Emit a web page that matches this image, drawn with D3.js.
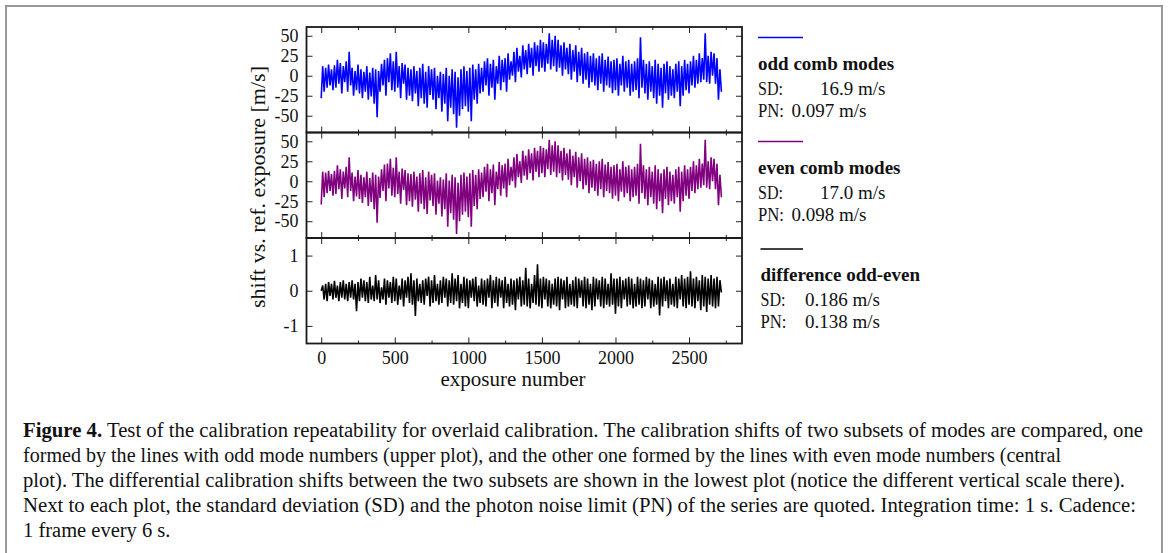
<!DOCTYPE html>
<html>
<head>
<meta charset="utf-8">
<script src="https://cdn.jsdelivr.net/npm/d3@7"></script>
<style>
  body { margin: 0; background: #fff; }
  svg { display: block; }
  text { font-family: "Liberation Serif", "DejaVu Serif", serif; fill: #111; }
</style>
</head>
<body>
<svg id="chart"></svg>
<script>
// one value every 10 exposures (upper / lower excursions)
let exposureStep = 10;

let oddShift = [
  -28, 12, -20, 10, -15, 14, -12, 8, -18, 13,
  -15, 20, -10, 16, -22, 12, -8, 18, -20, 30,
  -12, 10, -25, 6, -18, 14, -22, 8, -28, 5,
  -20, 12, -30, 4, -26, 10, -35, 8, -52, 6,
  -20, 15, -12, 20, -25, 22, -8, 28, -18, 18,
  -20, 30, -15, 12, -28, 16, -10, 14, -30, 10,
  -25, 8, -32, 12, -22, 6, -38, 10, -28, 15,
  -35, 5, -40, 12, -24, 8, -30, 10, -42, 0,
  -28, 5, -45, 2, -35, 10, -57, 0, -40, 8,
  -48, 5, -65, -2, -50, 8, -42, 12, -38, 6,
  -45, 10, -57, 14, -30, 8, -35, 15, -22, 10,
  -20, 18, -12, 22, -25, 15, -15, 20, -30, 12,
  -10, 25, -18, 20, -8, 22, -20, 28, -5, 18,
  0, 30, -8, 35, 5, 25, -2, 38, 8, 32,
  2, 40, 10, 35, 0, 42, 12, 38, 5, 45,
  10, 42, 5, 40, 15, 53, 8, 45, 12, 50,
  5, 45, 10, 38, 0, 42, 8, 35, 2, 40,
  -5, 32, 5, 38, -8, 30, 0, 35, -10, 28,
  -5, 30, -15, 25, -8, 28, -12, 22, -18, 25,
  -10, 28, -20, 20, -12, 24, -15, 18, -22, 20,
  -18, 22, -25, 15, -12, 25, -20, 18, -15, 20,
  -25, 15, -20, 18, -18, 22, -28, 48, -15, 20,
  -22, 15, -30, 18, -20, 12, -28, 20, -35, 15,
  -25, 10, -40, 15, -22, 18, -30, 12, -25, 8,
  -28, 15, -20, 18, -38, 12, -25, 20, -18, 15,
  -22, 18, -12, 25, -15, 20, -10, 28, -8, 22,
  -5, 53, -8, 25, -10, 30, 0, 28, -10, 22,
  -30, 8, -20
];

let evenShift = [
  -29, 12, -20, 11, -15, 13, -12, 9, -18, 13,
  -16, 20, -10, 15, -22, 12, -9, 18, -20, 30,
  -12, 11, -25, 6, -19, 14, -22, 8, -27, 5,
  -20, 12, -31, 4, -26, 11, -35, 8, -52, 6,
  -21, 15, -12, 21, -25, 22, -9, 28, -18, 17,
  -20, 30, -16, 12, -28, 16, -11, 14, -30, 10,
  -25, 9, -32, 12, -23, 6, -38, 10, -28, 14,
  -35, 5, -41, 12, -24, 8, -31, 10, -42, 1,
  -28, 5, -44, 2, -35, 10, -57, 1, -40, 8,
  -48, 5, -66, -2, -50, 8, -42, 11, -38, 6,
  -45, 10, -57, 14, -31, 8, -35, 15, -22, 11,
  -20, 18, -13, 22, -25, 15, -15, 21, -30, 12,
  -10, 24, -18, 20, -9, 22, -20, 28, -5, 18,
  0, 30, -8, 34, 5, 25, -2, 38, 7, 32,
  2, 40, 10, 35, 1, 42, 12, 38, 5, 44,
  10, 42, 5, 40, 15, 52, 8, 45, 12, 50,
  5, 45, 10, 38, 1, 42, 8, 35, 2, 40,
  -5, 32, 5, 37, -8, 30, 0, 35, -10, 28,
  -5, 30, -15, 25, -8, 27, -12, 22, -18, 25,
  -10, 28, -20, 21, -12, 24, -15, 18, -22, 20,
  -18, 22, -25, 15, -13, 25, -20, 18, -15, 20,
  -25, 15, -20, 18, -18, 22, -28, 47, -15, 20,
  -22, 15, -30, 18, -20, 12, -28, 20, -35, 15,
  -25, 10, -40, 15, -22, 18, -30, 12, -25, 8,
  -28, 15, -20, 18, -38, 12, -25, 20, -18, 15,
  -22, 18, -12, 25, -15, 20, -10, 28, -8, 22,
  -5, 52, -8, 25, -10, 30, 0, 28, -10, 22,
  -30, 8, -20
];

let diffShift = [
  0.0, 0.15, -0.25, 0.2, -0.3, 0.25, -0.15, 0.2, -0.25, 0.28,
  -0.2, 0.15, -0.3, 0.25, -0.2, 0.3, -0.25, 0.2, -0.3, 0.25,
  -0.2, 0.3, -0.25, 0.2, -0.58, 0.25, -0.3, 0.35, -0.2, 0.3,
  -0.3, 0.25, -0.35, 0.4, -0.25, 0.15, -0.3, 0.45, -0.25, 0.3,
  -0.35, 0.1, -0.25, 0.35, -0.4, 0.3, -0.2, 0.25, -0.35, 0.4,
  -0.3, 0.35, -0.4, 0.15, -0.25, 0.35, -0.45, 0.3, -0.2, 0.4,
  -0.35, 0.5, -0.4, 0.3, -0.72, 0.35, -0.3, 0.2, -0.35, 0.3,
  -0.4, 0.35, -0.15, 0.4, -0.45, 0.3, -0.35, 0.45, -0.3, 0.2,
  -0.4, 0.3, -0.35, 0.4, -0.2, 0.35, -0.45, 0.3, -0.35, 0.5,
  -0.4, 0.35, -0.3, 0.45, -0.5, 0.2, -0.35, 0.4, -0.45, 0.35,
  -0.5, 0.3, -0.2, 0.35, -0.3, 0.4, -0.45, 0.15, -0.35, 0.35,
  -0.4, 0.3, -0.45, 0.35, -0.2, 0.45, -0.5, 0.3, -0.35, 0.4,
  -0.45, 0.35, -0.2, 0.3, -0.5, 0.4, -0.35, 0.2, -0.45, 0.35,
  -0.4, 0.3, -0.55, 0.35, -0.25, 0.4, -0.45, 0.3, -0.4, 0.65,
  -0.45, 0.35, -0.5, 0.2, -0.35, 0.45, -0.4, 0.75, -0.45, 0.35,
  -0.5, 0.4, -0.25, 0.35, -0.45, 0.3, -0.5, 0.2, -0.4, 0.35,
  -0.45, 0.4, -0.55, 0.35, -0.25, 0.3, -0.5, 0.4, -0.45, 0.2,
  -0.4, 0.3, -0.45, 0.4, -0.5, 0.35, -0.2, 0.3, -0.45, 0.4,
  -0.5, 0.35, -0.4, 0.2, -0.55, 0.4, -0.45, 0.35, -0.25, 0.3,
  -0.45, 0.4, -0.5, 0.35, -0.4, 0.2, -0.45, 0.5, -0.4, 0.35,
  -0.65, 0.35, -0.45, 0.4, -0.5, 0.3, -0.25, 0.35, -0.45, 0.4,
  -0.4, 0.35, -0.5, 0.2, -0.45, 0.4, -0.4, 0.35, -0.5, 0.3,
  -0.45, 0.4, -0.25, 0.35, -0.5, 0.3, -0.45, 0.2, -0.4, 0.4,
  -0.7, 0.35, -0.45, 0.4, -0.3, 0.3, -0.5, 0.35, -0.4, 0.2,
  -0.45, 0.4, -0.5, 0.35, -0.25, 0.45, -0.45, 0.35, -0.5, 0.4,
  -0.4, 0.55, -0.45, 0.35, -0.5, 0.4, -0.3, 0.3, -0.55, 0.45,
  -0.45, 0.4, -0.6, 0.35, -0.4, 0.45, -0.45, 0.35, -0.5, 0.4,
  -0.45, 0.3, -0.05
];

let xTicks = [0, 500, 1000, 1500, 2000, 2500];
let xMinorTicks = [250, 750, 1250, 1750, 2250, 2750];
let shiftTicks = [-50, -25, 0, 25, 50];
let diffTicks = [-1, 0, 1];

let seriesNames = ["odd comb modes", "even comb modes", "difference odd-even"];
let seriesColors = ["#0000ff", "#800080", "#000000"];
let sdLabels = ["16.9 m/s", "17.0 m/s", "0.186 m/s"];
let pnLabels = ["0.097 m/s", "0.098 m/s", "0.138 m/s"];

let captionBold = "Figure 4.";
let captionLines = [
  " Test of the calibration repeatability for overlaid calibration. The calibration shifts of two subsets of modes are compared, one",
  "formed by the lines with odd mode numbers (upper plot), and the other one formed by the lines with even mode numbers (central",
  "plot). The differential calibration shifts between the two subsets are shown in the lowest plot (notice the different vertical scale there).",
  "Next to each plot, the standard deviation (SD) and the photon noise limit (PN) of the series are quoted. Integration time: 1 s. Cadence:",
  "1 frame every 6 s."
];

let width = 1168;
let height = 553;
let left = 306.5;
let right = 742;
let panelTops = [27, 132.5, 238];
let panelH = 105.5;

let svg = d3.select("#chart").attr("width", width).attr("height", height);

// outer box around figure + caption
svg.append("rect")
   .attr("x", 6).attr("y", 6)
   .attr("width", 1156).attr("height", 560)
   .attr("fill", "none").attr("stroke", "#999").attr("stroke-width", 2);

let xScale = d3.scaleLinear().domain([-100, 2860]).range([left, right]);

let panels = [
  {values: oddShift, domain: [-71, 61], ticks: shiftTicks},
  {values: evenShift, domain: [-71, 61], ticks: shiftTicks},
  {values: diffShift, domain: [-1.5, 1.5], ticks: diffTicks}
];

panels.forEach((p, k) => {
  let top = panelTops[k];
  let bottom = top + panelH;
  let yScale = d3.scaleLinear().domain(p.domain).range([bottom, top]);
  let g = svg.append("g");

  let line = d3.line()
               .x((d, i) => xScale(i * exposureStep))
               .y(d => yScale(d));

  g.append("path")
   .datum(p.values)
   .attr("d", line)
   .attr("fill", "none")
   .attr("stroke", seriesColors[k])
   .attr("stroke-width", 1.6);

  // ticks pointing into the frame on all four sides
  let fmt = d => String(d);
  let bottomAxis = d3.axisBottom(xScale).tickValues(xTicks).tickSizeInner(-6).tickSizeOuter(0)
                     .tickFormat(k == 2 ? fmt : "");
  let gb = g.append("g").attr("transform", "translate(0," + bottom + ")").call(bottomAxis);
  gb.selectAll("text").attr("y", 20.5).attr("dy", null).style("font-size", "18px");
  g.append("g").attr("transform", "translate(0," + bottom + ")")
   .call(d3.axisBottom(xScale).tickValues(xMinorTicks).tickSizeInner(-3).tickSizeOuter(0).tickFormat(""));
  g.append("g").attr("transform", "translate(0," + top + ")")
   .call(d3.axisTop(xScale).tickValues(xTicks).tickSizeInner(-6).tickSizeOuter(0).tickFormat(""));
  g.append("g").attr("transform", "translate(0," + top + ")")
   .call(d3.axisTop(xScale).tickValues(xMinorTicks).tickSizeInner(-3).tickSizeOuter(0).tickFormat(""));

  let gl = g.append("g").attr("transform", "translate(" + left + ",0)")
            .call(d3.axisLeft(yScale).tickValues(p.ticks).tickSizeInner(-6).tickSizeOuter(0)
                    .tickPadding(8).tickFormat(fmt));
  gl.selectAll("text").style("font-size", "18px");
  g.append("g").attr("transform", "translate(" + right + ",0)")
   .call(d3.axisRight(yScale).tickValues(p.ticks).tickSizeInner(-6).tickSizeOuter(0).tickFormat(""));

  g.selectAll(".domain").remove();
  g.selectAll(".tick line").attr("stroke", "#222");

  // frame
  g.append("rect")
   .attr("x", left).attr("y", top)
   .attr("width", right - left).attr("height", panelH)
   .attr("fill", "none").attr("stroke", "#1a1a1a").attr("stroke-width", 1.8);
});

// axis titles
svg.append("text")
   .attr("transform", "translate(265,187) rotate(-90)")
   .attr("text-anchor", "middle")
   .style("font-size", "22px")
   .text("shift vs. ref. exposure [m/s]");

svg.append("text")
   .attr("x", 513).attr("y", 386)
   .attr("text-anchor", "middle")
   .style("font-size", "21px")
   .text("exposure number");

// legend block beside each panel
let legendY = [37.5, 141.5, 249];
legendY.forEach((ly, k) => {
  let lx = k == 2 ? 760.5 : 758;
  let valX = k == 2 ? 805 : 820;
  let pnX = k == 2 ? 805 : 791.5;
  svg.append("line")
     .attr("x1", lx).attr("x2", 803).attr("y1", ly).attr("y2", ly)
     .attr("stroke", seriesColors[k]).attr("stroke-width", 1.5);
  svg.append("text").attr("x", lx).attr("y", ly + 32)
     .style("font-size", "19px").style("font-weight", "bold")
     .text(seriesNames[k]);
  svg.append("text").attr("x", lx).attr("y", ly + 57).style("font-size", "19px")
     .attr("textLength", 25).attr("lengthAdjust", "spacingAndGlyphs").text("SD:");
  svg.append("text").attr("x", valX).attr("y", ly + 57).style("font-size", "19px").text(sdLabels[k]);
  svg.append("text").attr("x", lx).attr("y", ly + 79).style("font-size", "19px")
     .attr("textLength", 26).attr("lengthAdjust", "spacingAndGlyphs").text("PN:");
  svg.append("text").attr("x", pnX).attr("y", ly + 79).style("font-size", "19px").text(pnLabels[k]);
});

// caption
let capWidths = [1120, 1038, 1102, 1113, 0];
captionLines.forEach((t, i) => {
  let txt = svg.append("text")
     .attr("x", 23).attr("y", 437 + i * 25)
     .style("font-size", "20.5px");
  if (i == 0) {
    txt.append("tspan").style("font-weight", "bold").text(captionBold);
    txt.append("tspan").text(t);
  } else {
    txt.text(t);
  }
  if (capWidths[i] > 0) {
    txt.attr("textLength", capWidths[i]).attr("lengthAdjust", "spacingAndGlyphs");
  }
});
</script>
</body>
</html>
